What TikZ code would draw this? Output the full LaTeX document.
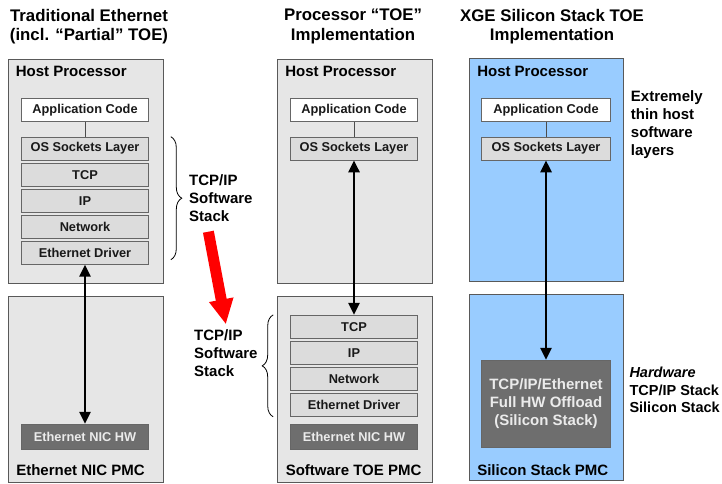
\documentclass[tikz,border=0pt]{standalone}
\usepackage{fontspec}
\setmainfont{Liberation Sans}
\usetikzlibrary{arrows.meta,positioning,decorations.pathreplacing,shadows}

\definecolor{boxgray}{HTML}{E6E6E6}
\definecolor{layergray}{HTML}{DCDCDC}
\definecolor{hwgray}{HTML}{6E6E6E}
\definecolor{siliconblue}{HTML}{99CCFF}

\newcommand{\titlefont}{\fontsize{16.8}{19.5}\selectfont\bfseries}
\newcommand{\pmcfont}{\fontsize{15}{18}\selectfont\bfseries}
\newcommand{\layerfont}{\fontsize{12.8}{15}\selectfont\bfseries}

\tikzset{
  pmc/.style={draw=black!65, line width=0.8pt, fill=boxgray, minimum width=155pt, inner sep=0pt},
  pmclabel/.style={anchor=west, inner sep=0pt, font=\pmcfont},
  layer/.style={draw=black!60, line width=0.6pt, fill=layergray, minimum width=127pt, minimum height=23pt,
    inner sep=0pt, font=\layerfont, text=black!90,
    drop shadow={shadow xshift=0.8pt, shadow yshift=-0.8pt, fill=black!55, opacity=1}},
  appbox/.style={layer, fill=white},
  hwbox/.style={layer, fill=hwgray, text=black!8},
  sidenote/.style={anchor=west, align=left, inner sep=0pt, font=\pmcfont},
  datalink/.style={line width=2.6pt, {Triangle[width=11pt,length=12pt]}-{Triangle[width=11pt,length=12pt]}},
  stackbrace/.style={decorate, decoration={brace, amplitude=11pt}, line width=0.8pt},
  redarrow/.style={red, line width=11pt, -{Triangle[width=23pt,length=25pt]}}
}

\begin{document}
\begin{tikzpicture}[x=1pt, y=-1pt]
    \useasboundingbox (0,0) rectangle (722,483);

    % Titles
    \node[align=center, font=\titlefont] (title1) at (89,26.5) {Traditional Ethernet\\(incl. ``Partial'' TOE)};
    \node[align=center, font=\titlefont] (title2) at (353,26.5) {Processor ``TOE''\\Implementation};
    \node[align=center, font=\titlefont] (title3) at (552,26.5) {XGE Silicon Stack TOE\\Implementation};

    % Traditional Ethernet
    \node[pmc, minimum height=224pt] (host1) at (85.5,171) {};
    \node[pmc, minimum height=186pt] (card1) at (85.5,389) {};
    \node[pmclabel] at ([xshift=8pt,yshift=-13pt]host1.north west) {Host Processor};
    \node[pmclabel] at ([xshift=8.5pt,yshift=12pt]card1.south west) {Ethernet NIC PMC};
    \node[appbox] (app1) at (85,110) {Application Code};
    \node[layer] (os1) at (85,148.5) {OS Sockets Layer};
    \node[layer, below=2.5pt of os1] (tcp1) {TCP};
    \node[layer, below=2.5pt of tcp1] (ip1) {IP};
    \node[layer, below=2.5pt of ip1] (net1) {Network};
    \node[layer, below=2.5pt of net1] (eth1) {Ethernet Driver};
    \node[hwbox, minimum height=25pt] (nic1) at (85,436.7) {Ethernet NIC HW};
    \draw[black!70, line width=0.8pt] (app1) -- (os1);
    \draw[datalink] (eth1) -- (nic1);
    \draw[stackbrace] ([xshift=22pt]os1.north east) -- ([xshift=22pt,yshift=5pt]eth1.south east);
    \node[sidenote] (swstack1) at (189,198) {TCP/IP\\Software\\Stack};

    % Processor TOE
    \node[pmc, minimum height=224pt] (host2) at (355,171) {};
    \node[pmc, minimum height=186pt] (card2) at (355,389) {};
    \node[pmclabel] at ([xshift=8pt,yshift=-13pt]host2.north west) {Host Processor};
    \node[pmclabel] at ([xshift=8.5pt,yshift=12pt]card2.south west) {Software TOE PMC};
    \node[appbox] (app2) at (354,110) {Application Code};
    \node[layer] (os2) at (354,148.5) {OS Sockets Layer};
    \node[layer] (tcp2) at (354,326.7) {TCP};
    \node[layer, below=2.5pt of tcp2] (ip2) {IP};
    \node[layer, below=2.5pt of ip2] (net2) {Network};
    \node[layer, below=2.5pt of net2] (eth2) {Ethernet Driver};
    \node[hwbox, minimum height=25pt] (nic2) at (354,436.7) {Ethernet NIC HW};
    \draw[black!70, line width=0.8pt] (app2) -- (os2);
    \draw[datalink] (os2) -- (tcp2);
    \draw[stackbrace] ([xshift=-17pt]eth2.south west) -- ([xshift=-17pt]tcp2.north west);
    \node[sidenote] (swstack2) at (194,353) {TCP/IP\\Software\\Stack};

    % moving the stack off the host
    \draw[redarrow] ([xshift=-12.5pt,yshift=-10pt]swstack1.south) -- ([yshift=5pt]swstack2.north);

    % XGE Silicon Stack
    \node[pmc, fill=siliconblue, minimum width=153.5pt, minimum height=223pt] (host3) at (546.2,169.5) {};
    \node[pmc, fill=siliconblue, minimum width=153.5pt, minimum height=186pt] (card3) at (546.2,387) {};
    \node[pmclabel] at ([xshift=8pt,yshift=-14pt]host3.north west) {Host Processor};
    \node[pmclabel] at ([xshift=8pt,yshift=10pt]card3.south west) {Silicon Stack PMC};
    \node[appbox, minimum width=129pt] (app3) at (546,110) {Application Code};
    \node[layer, minimum width=129pt] (os3) at (546,148.5) {OS Sockets Layer};
    \node[hwbox, minimum width=129pt, minimum height=87.3pt, align=center, font=\fontsize{15}{18}\selectfont\bfseries]
        (offload) at (546,403.7) {TCP/IP/Ethernet\\Full HW Offload\\(Silicon Stack)};
    \draw[black!70, line width=0.8pt] (app3) -- (os3);
    \draw[datalink] (os3) -- (offload);
    \node[sidenote] (thinhost) at (630.7,125) {Extremely\\thin host\\software\\layers};
    \node[sidenote, font=\fontsize{14.5}{17.8}\selectfont\bfseries] (hwstack) at (629.3,390) {\textit{Hardware}\\TCP/IP Stack\\Silicon Stack};
\end{tikzpicture}
\end{document}
